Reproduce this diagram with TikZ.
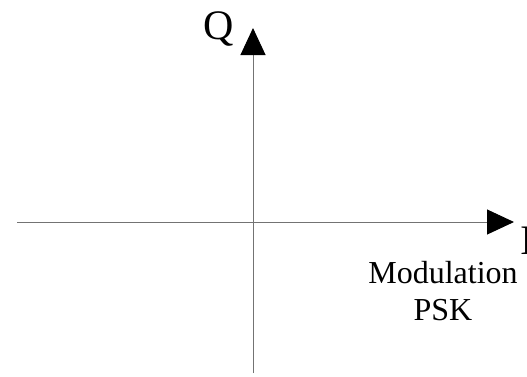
\documentclass[tikz,border=0pt]{standalone}
\usepackage{fontspec}
\setmainfont{Liberation Serif}
\usetikzlibrary{arrows.meta}
\colorlet{axiscol}{black!55!white}
\colorlet{labelcol}{black}
\tikzset{
  axis/.style={line width=1pt, axiscol,
    -{Triangle[length=27pt, width=25pt, color=black]}},
  axislabel/.style={inner sep=0pt, text=labelcol, font=\fontsize{42}{42}\selectfont},
  caption/.style={inner sep=0pt, align=center, text=labelcol,
    font=\fontsize{32}{37}\selectfont}
}

\begin{document}
\begin{tikzpicture}[x=1pt, y=-1pt]

  % Page frame.
  \useasboundingbox (0,0) rectangle (527,376);

  % Axis ends.
  \coordinate (iStart) at (17,222);
  \coordinate (iEnd)   at (514,222);
  \coordinate (qStart) at (253,373);
  \coordinate (qEnd)   at (253,28);

  % Axes.
  \draw[axis] (iStart) -- (iEnd);
  \draw[axis] (qStart) -- (qEnd);

  % Axis labels.
  \node[axislabel, anchor=base west] (qLabel) at (203,39) {Q};
  \node[axislabel, anchor=base west] (iLabel) at (520,254) {I};

  % Caption.
  \node[caption, anchor=base] (modLabel) at (443,320) {Modulation\\PSK};

\end{tikzpicture}
\end{document}
